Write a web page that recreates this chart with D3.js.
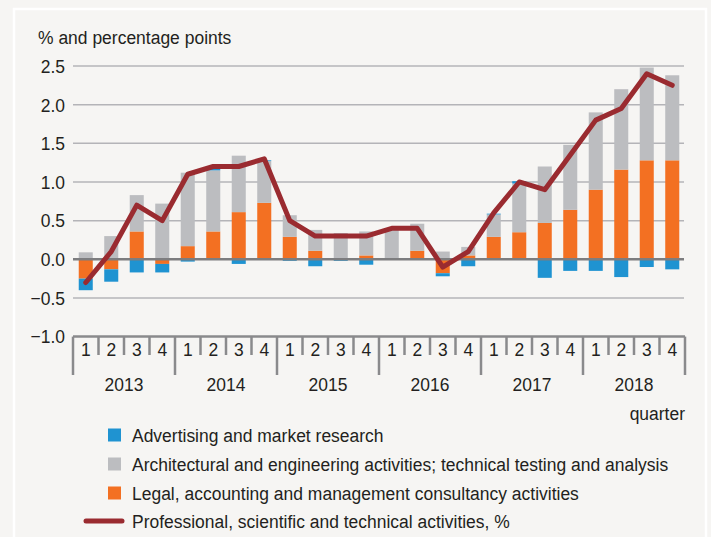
<!DOCTYPE html>
<html><head><meta charset="utf-8">
<script src="https://cdn.jsdelivr.net/npm/d3@7"></script>
<style>
html,body{margin:0;padding:0;background:#f6f5f3;}
svg{display:block;font-family:"Liberation Sans",Arial,sans-serif;}
</style></head>
<body><svg id="c" width="711" height="537"></svg>
<script>
const years = ["2013","2014","2015","2016","2017","2018"];
const quarters = ["1","2","3","4"];
const categories = years.flatMap(y => quarters.map(q => y + "Q" + q));
const advertising = [-0.15,-0.16,-0.17,-0.11, -0.03,0.02,-0.06,0.01, -0.02,-0.09,-0.02,-0.07, 0.00,0.00,-0.04,-0.09, 0.01,0.03,-0.24,-0.15, -0.15,-0.23,-0.10,-0.13];
const architectural = [0.09,0.30,0.47,0.72, 0.95,0.79,0.73,0.54, 0.28,0.27,0.34,0.31, 0.38,0.35,0.10,0.11, 0.29,0.63,0.73,0.84, 1.00,1.04,1.20,1.10];
const legal = [-0.25,-0.13,0.36,-0.06, 0.17,0.36,0.61,0.73, 0.29,0.11,0.00,0.05, 0.00,0.11,-0.18,0.05, 0.29,0.35,0.47,0.64, 0.90,1.16,1.28,1.28];
const total = [-0.30,0.10,0.70,0.50, 1.10,1.20,1.20,1.30, 0.50,0.30,0.30,0.30, 0.40,0.40,-0.10,0.10, 0.60,1.00,0.90,1.35, 1.80,1.95,2.40,2.25];
const yTicks = [-1.0,-0.5,0.0,0.5,1.0,1.5,2.0,2.5];
const seriesNames = ["Advertising and market research","Architectural and engineering activities; technical testing and analysis","Legal, accounting and management consultancy activities"];
const lineName = "Professional, scientific and technical activities, %";
const yLabel = "% and percentage points";
const xLabel = "quarter";

const colors = {adv:"#1f93d1", arch:"#bcbdc0", legal:"#f37022", line:"#9a2b30"};
const textColor = "#231f20";
const FS = 19, SX = 0.92;
const svg = d3.select("#c");

function addText(parent, tx, ty, str, anchor, dy) {
  const g = parent.append("g").attr("transform", `translate(${tx},${ty}) scale(${SX},1)`);
  return g.append("text").attr("x",0).attr("y",0).attr("dy", dy || "0")
    .attr("text-anchor", anchor || "start").attr("font-size", FS).attr("fill", textColor).text(str);
}

// frame
svg.append("rect").attr("x",14).attr("y",9).attr("width",692).attr("height",540)
  .attr("fill","#f6f5f3").attr("stroke","#ffffff").attr("stroke-width",2.5);

const x0 = 73, x1 = 685;
const x = d3.scaleBand().domain(categories).range([x0,x1]).paddingInner(0.45).paddingOuter(0.225);
const y = d3.scaleLinear().domain([-1,2.5]).range([336.6,66]);

// gridlines
svg.append("g").selectAll("line").data(yTicks.filter(v => v > -1 && v !== 0)).join("line")
  .attr("x1",x0).attr("x2",x1-1).attr("y1",d=>y(d)).attr("y2",d=>y(d))
  .attr("stroke","#b4b4b8").attr("stroke-width",1.5);

// y tick labels
const yl = svg.append("g");
yTicks.forEach(v => addText(yl, 65, y(v), d3.format(".1f")(v).replace("-","\u2212"), "end", "0.36em"));

addText(svg, 38, 44, yLabel, "start");

// stacked bars
const rows = categories.map((c,i)=>({cat:c, legal:legal[i], arch:architectural[i], adv:advertising[i]}));
const stack = d3.stack().keys(["legal","arch","adv"]).offset(d3.stackOffsetDiverging);
const stacked = stack(rows);
svg.append("g").selectAll("g").data(stacked).join("g")
  .attr("fill", d => colors[d.key])
  .selectAll("rect").data(d=>d).join("rect")
  .attr("x", d => x(d.data.cat))
  .attr("width", x.bandwidth())
  .attr("y", d => y(Math.max(d[0],d[1])))
  .attr("height", d => Math.abs(y(d[0]) - y(d[1])));

// zero line
svg.append("line").attr("x1",x0).attr("x2",x1-1).attr("y1",y(0)).attr("y2",y(0))
  .attr("stroke","#7d7d7f").attr("stroke-width",2.5);

// line series
const line = d3.line().x((d,i)=>x(categories[i]) + x.bandwidth()/2).y(d=>y(d));
svg.append("path").datum(total).attr("d",line).attr("fill","none")
  .attr("stroke",colors.line).attr("stroke-width",5).attr("stroke-linejoin","round").attr("stroke-linecap","round");

// x axis
const axisY = y(-1);
const step = x.step();
const ax = svg.append("g").attr("stroke","#8a8a8c").attr("stroke-width",2.5);
ax.append("line").attr("x1",x0).attr("x2",x1).attr("y1",axisY).attr("y2",axisY);
d3.range(categories.length+1).forEach(i => {
  const xx = x0 + i*step;
  const long = i % 4 === 0;
  ax.append("line").attr("x1",xx).attr("x2",xx).attr("y1",axisY).attr("y2", long ? 375 : 355);
});
const ql = svg.append("g");
categories.forEach(c => addText(ql, x(c) + x.bandwidth()/2, 356, c.slice(-1), "middle"));
const yrl = svg.append("g");
years.forEach((yr,i) => addText(yrl, x0 + (i*4+2)*step, 391, yr, "middle"));
addText(svg, 685, 420, xLabel, "end");

// legend
const legendKeys = ["adv","arch","legal"];
const ly = [435,464,493,521];
const lg = svg.append("g");
legendKeys.forEach((k,i)=>{
  lg.append("rect").attr("x",108).attr("y",ly[i]-6.5).attr("width",13).attr("height",13).attr("fill",colors[k]);
  addText(lg, 132, ly[i], seriesNames[i], "start", "0.36em");
});
lg.append("line").attr("x1",86).attr("x2",122).attr("y1",ly[3]).attr("y2",ly[3])
  .attr("stroke",colors.line).attr("stroke-width",5).attr("stroke-linecap","round");
addText(lg, 132, ly[3], lineName, "start", "0.36em");
</script></body></html>
